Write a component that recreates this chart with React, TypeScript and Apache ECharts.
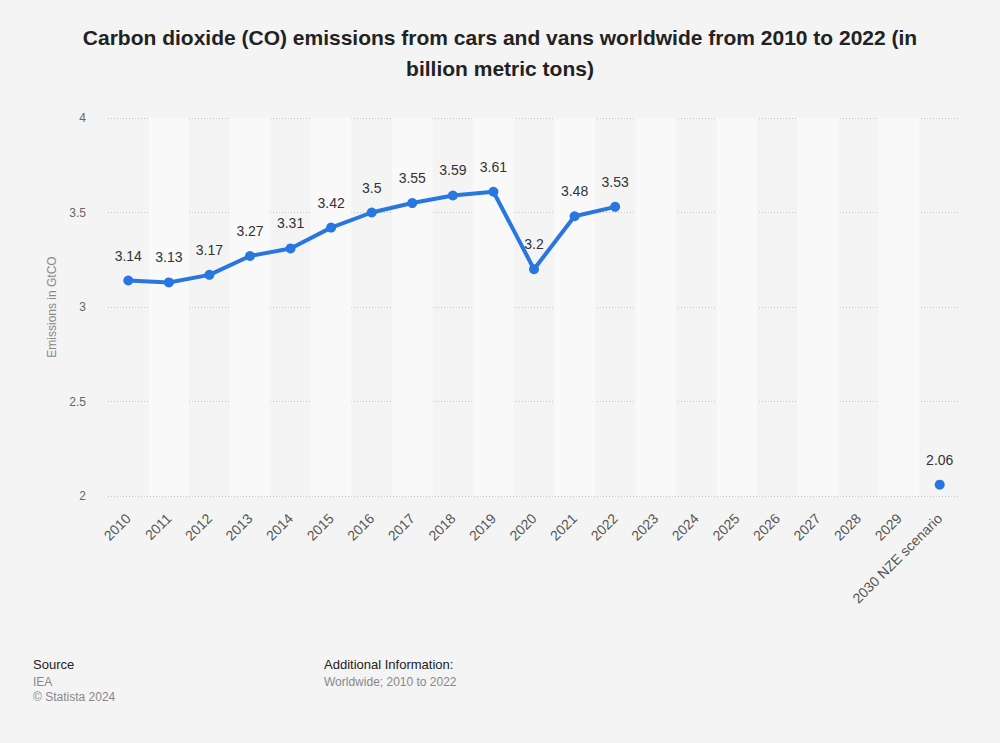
import React, { useEffect, useRef } from "react";
import * as echarts from "echarts";

const categories = ["2010","2011","2012","2013","2014","2015","2016","2017","2018","2019","2020","2021","2022","2023","2024","2025","2026","2027","2028","2029","2030 NZE scenario"];
const historical = [3.14,3.13,3.17,3.27,3.31,3.42,3.5,3.55,3.59,3.61,3.2,3.48,3.53];
const scenarioValue = 2.06;
const yTicks = { min: 2, max: 4, interval: 0.5 };

const FONT = "Arial, 'Liberation Sans', Helvetica, sans-serif";
const BLUE = "#2877e0";

export default function App() {
  const ref = useRef<HTMLDivElement>(null);
  useEffect(() => {
    if (!ref.current) return;
    const chart = echarts.init(ref.current, undefined, { renderer: "svg" });
    const lineData = categories.map((_, i) => (i < historical.length ? historical[i] : null));
    const scenarioData = categories.map((_, i) => (i === categories.length - 1 ? scenarioValue : null));
    chart.setOption({
      animation: false,
      backgroundColor: "#f4f4f4",
      textStyle: { fontFamily: FONT },
      title: {
        text: "Carbon dioxide (CO) emissions from cars and vans worldwide from 2010 to 2022 (in\nbillion metric tons)",
        left: "center",
        top: 17,
        textStyle: { fontSize: 21, fontWeight: "bold", color: "#222", lineHeight: 31, fontFamily: FONT },
      },
      grid: { left: 108, right: 40, top: 118, bottom: 247 },
      xAxis: {
        type: "category",
        data: categories,
        boundaryGap: true,
        axisLine: { show: false },
        axisTick: { show: false },
        axisLabel: { rotate: 45, color: "#555", fontSize: 14, margin: 20, interval: 0, fontFamily: FONT },
        splitArea: { show: true, areaStyle: { color: ["rgba(0,0,0,0)", "#f9f9f9"] } },
      },
      yAxis: {
        type: "value",
        min: yTicks.min,
        max: yTicks.max,
        interval: yTicks.interval,
        name: "Emissions in GtCO",
        nameLocation: "middle",
        nameGap: 50,
        nameTextStyle: { color: "#888", fontSize: 12, fontFamily: FONT },
        axisLine: { show: false },
        axisTick: { show: false },
        axisLabel: { color: "#666", fontSize: 12, margin: 22, fontFamily: FONT },
        splitLine: { lineStyle: { color: "#c4c4c4", type: [1, 2], width: 1 } },
      },
      series: [
        {
          type: "line",
          data: lineData,
          connectNulls: false,
          symbol: "circle",
          symbolSize: 10,
          showSymbol: true,
          lineStyle: { color: BLUE, width: 4 },
          itemStyle: { color: BLUE },
          label: { show: true, position: "top", distance: 13, color: "#333", fontSize: 14, fontFamily: FONT },
        },
        {
          type: "line",
          data: scenarioData,
          symbol: "circle",
          symbolSize: 10,
          showSymbol: true,
          lineStyle: { width: 0 },
          itemStyle: { color: BLUE },
          label: { show: true, position: "top", distance: 13, color: "#333", fontSize: 14, fontFamily: FONT },
        },
      ],
      graphic: [
        { type: "text", left: 33, top: 658, style: { text: "Source", fontSize: 13, fill: "#222", fontFamily: FONT } },
        { type: "text", left: 33, top: 676, style: { text: "IEA", fontSize: 12, fill: "#888", fontFamily: FONT } },
        { type: "text", left: 33, top: 691, style: { text: "© Statista 2024", fontSize: 12, fill: "#888", fontFamily: FONT } },
        { type: "text", left: 324, top: 658, style: { text: "Additional Information:", fontSize: 13, fill: "#222", fontFamily: FONT } },
        { type: "text", left: 324, top: 676, style: { text: "Worldwide; 2010 to 2022", fontSize: 12, fill: "#888", fontFamily: FONT } },
      ],
    });
    return () => chart.dispose();
  }, []);
  return <div ref={ref} style={{ position: "fixed", left: 0, top: 0, width: 1000, height: 743 }} />;
}
